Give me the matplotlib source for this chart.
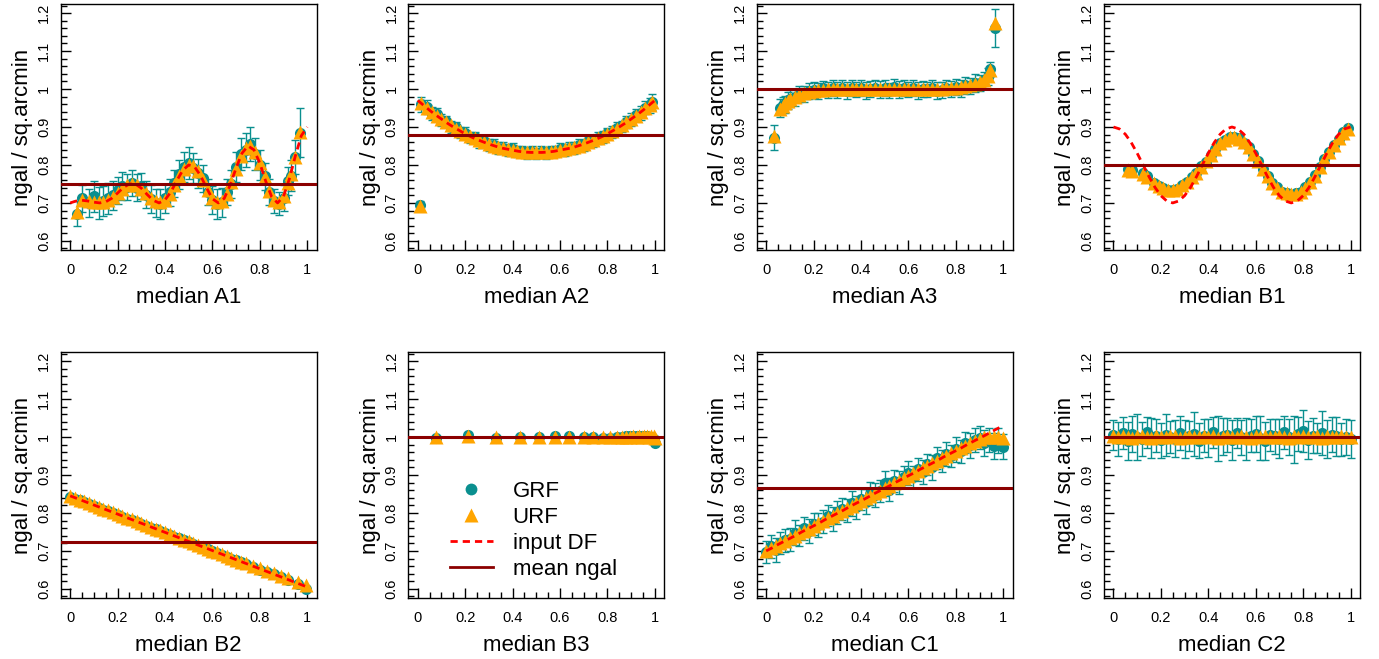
import matplotlib
matplotlib.use('Agg')
import matplotlib.pyplot as plt
from matplotlib.lines import Line2D
from matplotlib.ticker import MultipleLocator, FuncFormatter

plt.rcParams['font.family'] = ['Liberation Sans', 'DejaVu Sans']

TEAL = '#0a8f8f'
ORANGE = '#ffa500'

# input DF curves, sampled every 0.025 in x
df_x = [0.000, 0.025, 0.050, 0.075, 0.100, 0.125, 0.150, 0.175, 0.200, 0.225,
        0.250, 0.275, 0.300, 0.325, 0.350, 0.375, 0.400, 0.425, 0.450, 0.475,
        0.500, 0.525, 0.550, 0.575, 0.600, 0.625, 0.650, 0.675, 0.700, 0.725,
        0.750, 0.775, 0.800, 0.825, 0.850, 0.875, 0.900, 0.925, 0.950, 0.975, 1.000]
df_a1 = [0.700, 0.705, 0.707, 0.705, 0.702, 0.700, 0.703, 0.712, 0.726, 0.741,
         0.750, 0.750, 0.739, 0.722, 0.707, 0.700, 0.708, 0.729, 0.759, 0.786,
         0.800, 0.795, 0.772, 0.740, 0.711, 0.700, 0.712, 0.747, 0.792, 0.831,
         0.850, 0.840, 0.805, 0.757, 0.716, 0.700, 0.717, 0.764, 0.824, 0.877, 0.900]
df_a2 = [0.970, 0.957, 0.944, 0.932, 0.921, 0.910, 0.900, 0.891, 0.882, 0.874,
         0.867, 0.861, 0.855, 0.850, 0.845, 0.842, 0.839, 0.836, 0.834, 0.833,
         0.833, 0.833, 0.834, 0.836, 0.839, 0.842, 0.845, 0.850, 0.855, 0.861,
         0.867, 0.874, 0.882, 0.891, 0.900, 0.910, 0.921, 0.932, 0.944, 0.957, 0.970]
df_a3 = [1.0, 1.0, 1.0, 1.0, 1.0, 1.0, 1.0, 1.0, 1.0, 1.0,
         1.0, 1.0, 1.0, 1.0, 1.0, 1.0, 1.0, 1.0, 1.0, 1.0,
         1.0, 1.0, 1.0, 1.0, 1.0, 1.0, 1.0, 1.0, 1.0, 1.0,
         1.0, 1.0, 1.0, 1.0, 1.0, 1.0, 1.0, 1.0, 1.0, 1.0, 1.0]
df_b1 = [0.900, 0.895, 0.881, 0.859, 0.831, 0.800, 0.769, 0.741, 0.719, 0.705,
         0.700, 0.705, 0.719, 0.741, 0.769, 0.800, 0.831, 0.859, 0.881, 0.895,
         0.900, 0.895, 0.881, 0.859, 0.831, 0.800, 0.769, 0.741, 0.719, 0.705,
         0.700, 0.705, 0.719, 0.741, 0.769, 0.800, 0.831, 0.859, 0.881, 0.895, 0.900]
df_b2 = [0.845, 0.839, 0.833, 0.827, 0.821, 0.815, 0.809, 0.803, 0.797, 0.791,
         0.785, 0.779, 0.773, 0.767, 0.761, 0.755, 0.749, 0.743, 0.737, 0.731,
         0.725, 0.719, 0.713, 0.707, 0.701, 0.695, 0.689, 0.683, 0.677, 0.671,
         0.665, 0.659, 0.653, 0.647, 0.641, 0.635, 0.629, 0.623, 0.617, 0.611, 0.605]
df_b3 = df_a3
df_c1 = [0.700, 0.708, 0.717, 0.725, 0.733, 0.741, 0.750, 0.758, 0.766, 0.774,
         0.783, 0.791, 0.799, 0.807, 0.816, 0.824, 0.832, 0.840, 0.849, 0.857,
         0.865, 0.873, 0.882, 0.890, 0.898, 0.906, 0.915, 0.923, 0.931, 0.939,
         0.948, 0.956, 0.964, 0.972, 0.981, 0.989, 0.997, 1.005, 1.014, 1.022, 1.030]
df_c2 = df_a3

# A1
x_a1 = [0.03, 0.05, 0.08, 0.10, 0.12, 0.14, 0.16, 0.18, 0.20, 0.22,
        0.24, 0.26, 0.28, 0.30, 0.32, 0.34, 0.36, 0.38, 0.40, 0.42,
        0.44, 0.46, 0.48, 0.50, 0.52, 0.54, 0.56, 0.58, 0.60, 0.62,
        0.64, 0.66, 0.68, 0.70, 0.72, 0.74, 0.76, 0.78, 0.80, 0.82,
        0.84, 0.86, 0.88, 0.90, 0.92, 0.93, 0.95, 0.97]
urf_a1 = [0.676, 0.708, 0.705, 0.703, 0.702, 0.703, 0.707, 0.716, 0.727, 0.738,
          0.746, 0.749, 0.746, 0.738, 0.725, 0.713, 0.705, 0.702, 0.708, 0.724,
          0.747, 0.770, 0.789, 0.799, 0.797, 0.783, 0.760, 0.734, 0.712, 0.702,
          0.705, 0.724, 0.754, 0.790, 0.823, 0.844, 0.849, 0.834, 0.805, 0.768,
          0.731, 0.707, 0.702, 0.717, 0.753, 0.776, 0.822, 0.888]
grf_a1 = [0.672, 0.712, 0.700, 0.717, 0.700, 0.705, 0.712, 0.720, 0.733, 0.745,
          0.742, 0.752, 0.740, 0.745, 0.722, 0.710, 0.700, 0.698, 0.712, 0.728,
          0.752, 0.775, 0.795, 0.805, 0.792, 0.778, 0.765, 0.728, 0.708, 0.698,
          0.702, 0.728, 0.750, 0.795, 0.828, 0.840, 0.855, 0.830, 0.800, 0.770,
          0.728, 0.705, 0.698, 0.712, 0.758, 0.772, 0.820, 0.885]
err_a1 = [0.033, 0.035, 0.038, 0.040, 0.042, 0.040, 0.040, 0.038, 0.036, 0.036,
          0.035, 0.034, 0.035, 0.034, 0.036, 0.037, 0.038, 0.040, 0.038, 0.036,
          0.036, 0.038, 0.040, 0.042, 0.040, 0.038, 0.036, 0.034, 0.036, 0.040,
          0.038, 0.034, 0.036, 0.040, 0.042, 0.045, 0.045, 0.042, 0.040, 0.036,
          0.034, 0.032, 0.030, 0.034, 0.036, 0.040, 0.045, 0.065]

# A2
x_a2 = [0.01, 0.015, 0.04, 0.06, 0.08, 0.10, 0.12, 0.14, 0.16, 0.18,
        0.20, 0.22, 0.24, 0.26, 0.28, 0.30, 0.32, 0.34, 0.36, 0.38,
        0.40, 0.42, 0.44, 0.46, 0.48, 0.50, 0.52, 0.54, 0.56, 0.58,
        0.60, 0.62, 0.64, 0.66, 0.68, 0.70, 0.72, 0.74, 0.76, 0.78,
        0.80, 0.82, 0.84, 0.86, 0.88, 0.90, 0.92, 0.94, 0.96, 0.98, 0.99]
urf_a2 = [0.692, 0.962, 0.949, 0.939, 0.930, 0.921, 0.912, 0.904, 0.896, 0.889,
          0.882, 0.876, 0.870, 0.865, 0.860, 0.855, 0.851, 0.847, 0.844, 0.841,
          0.839, 0.837, 0.835, 0.834, 0.833, 0.833, 0.833, 0.834, 0.835, 0.837,
          0.839, 0.841, 0.844, 0.847, 0.851, 0.855, 0.860, 0.865, 0.870, 0.876,
          0.882, 0.889, 0.896, 0.904, 0.912, 0.921, 0.930, 0.939, 0.949, 0.959, 0.965]
grf_a2 = [0.694, 0.960, 0.952, 0.935, 0.933, 0.918, 0.915, 0.900, 0.899, 0.886,
          0.884, 0.872, 0.873, 0.862, 0.862, 0.853, 0.853, 0.845, 0.846, 0.839,
          0.841, 0.835, 0.837, 0.832, 0.835, 0.831, 0.835, 0.832, 0.837, 0.835,
          0.841, 0.839, 0.846, 0.845, 0.853, 0.852, 0.862, 0.863, 0.872, 0.874,
          0.884, 0.887, 0.898, 0.902, 0.914, 0.919, 0.932, 0.937, 0.951, 0.957, 0.966]
err_a2 = [0.010, 0.020, 0.018, 0.017, 0.016, 0.016, 0.015, 0.016, 0.015, 0.014,
          0.015, 0.014, 0.015, 0.016, 0.014, 0.015, 0.016, 0.015, 0.014, 0.015,
          0.016, 0.015, 0.014, 0.015, 0.016, 0.015, 0.016, 0.015, 0.014, 0.015,
          0.016, 0.015, 0.014, 0.015, 0.016, 0.015, 0.014, 0.015, 0.016, 0.015,
          0.014, 0.015, 0.016, 0.015, 0.016, 0.017, 0.016, 0.018, 0.017, 0.020, 0.022]

# A3
x_a3 = [0.035, 0.06, 0.07, 0.08, 0.09, 0.10, 0.12, 0.14, 0.16, 0.18,
        0.20, 0.22, 0.24, 0.26, 0.28, 0.30, 0.32, 0.34, 0.36, 0.38,
        0.40, 0.42, 0.44, 0.46, 0.48, 0.50, 0.52, 0.54, 0.56, 0.58,
        0.60, 0.62, 0.64, 0.66, 0.68, 0.70, 0.72, 0.74, 0.76, 0.78,
        0.80, 0.82, 0.84, 0.86, 0.88, 0.90, 0.92, 0.935, 0.945, 0.965]
urf_a3 = [0.875, 0.948, 0.955, 0.962, 0.968, 0.973, 0.980, 0.985, 0.990, 0.993,
          0.996, 0.997, 0.998, 0.999, 0.999, 1.000, 1.000, 1.000, 1.000, 1.000,
          1.000, 1.000, 1.000, 1.000, 1.000, 1.000, 1.000, 1.000, 1.000, 1.000,
          1.000, 1.000, 1.000, 1.000, 1.000, 1.000, 1.000, 1.001, 1.002, 1.003,
          1.004, 1.005, 1.007, 1.010, 1.013, 1.018, 1.025, 1.035, 1.050, 1.173]
grf_a3 = [0.872, 0.950, 0.958, 0.960, 0.970, 0.975, 0.978, 0.988, 0.987, 0.995,
          0.998, 0.995, 1.002, 0.997, 1.003, 0.998, 1.004, 0.996, 1.002, 0.999,
          1.003, 0.997, 1.001, 1.004, 0.998, 1.002, 0.996, 1.005, 0.999, 1.002,
          0.998, 1.003, 0.997, 1.001, 0.999, 1.004, 0.996, 0.998, 1.003, 1.000,
          1.006, 1.002, 1.010, 1.008, 1.015, 1.016, 1.024, 1.033, 1.052, 1.160]
err_a3 = [0.033, 0.023, 0.022, 0.022, 0.022, 0.022, 0.022, 0.021, 0.021, 0.021,
          0.021, 0.022, 0.020, 0.021, 0.022, 0.021, 0.020, 0.022, 0.021, 0.020,
          0.021, 0.022, 0.021, 0.020, 0.022, 0.021, 0.020, 0.021, 0.022, 0.021,
          0.020, 0.021, 0.022, 0.021, 0.020, 0.021, 0.022, 0.021, 0.020, 0.022,
          0.021, 0.022, 0.023, 0.022, 0.024, 0.022, 0.022, 0.022, 0.020, 0.050]

# B1
x_b1 = [0.06, 0.08, 0.125, 0.14, 0.17, 0.19, 0.21, 0.23, 0.25, 0.27,
        0.29, 0.31, 0.33, 0.35, 0.37, 0.39, 0.41, 0.43, 0.45, 0.47,
        0.49, 0.51, 0.53, 0.55, 0.57, 0.59, 0.61, 0.63, 0.65, 0.67,
        0.69, 0.71, 0.73, 0.75, 0.77, 0.79, 0.81, 0.83, 0.85, 0.87,
        0.89, 0.91, 0.93, 0.95, 0.97, 0.99]
urf_b1 = [0.788, 0.785, 0.777, 0.768, 0.752, 0.745, 0.739, 0.735, 0.733, 0.738,
          0.746, 0.755, 0.767, 0.780, 0.795, 0.810, 0.826, 0.843, 0.857, 0.867,
          0.873, 0.874, 0.869, 0.860, 0.847, 0.830, 0.810, 0.790, 0.770, 0.753,
          0.740, 0.730, 0.725, 0.723, 0.724, 0.730, 0.740, 0.755, 0.772, 0.795,
          0.815, 0.835, 0.852, 0.870, 0.885, 0.895]
grf_b1 = [0.790, 0.786, 0.780, 0.772, 0.752, 0.745, 0.740, 0.734, 0.733, 0.737,
          0.747, 0.754, 0.768, 0.779, 0.796, 0.809, 0.827, 0.842, 0.858, 0.866,
          0.874, 0.873, 0.870, 0.859, 0.848, 0.829, 0.811, 0.789, 0.771, 0.752,
          0.741, 0.729, 0.726, 0.722, 0.725, 0.729, 0.741, 0.754, 0.773, 0.794,
          0.816, 0.834, 0.853, 0.869, 0.886, 0.897]
err_b1 = [0.005, 0.005, 0.005, 0.004, 0.004, 0.004, 0.004, 0.004, 0.004, 0.004,
          0.004, 0.004, 0.004, 0.004, 0.004, 0.004, 0.004, 0.004, 0.004, 0.004,
          0.004, 0.004, 0.004, 0.004, 0.004, 0.004, 0.004, 0.004, 0.004, 0.004,
          0.004, 0.004, 0.004, 0.004, 0.004, 0.004, 0.004, 0.004, 0.004, 0.004,
          0.004, 0.004, 0.004, 0.005, 0.005, 0.006]

# B2
x_b2 = [0.00, 0.02, 0.04, 0.06, 0.08, 0.10, 0.12, 0.14, 0.16, 0.18,
        0.20, 0.22, 0.24, 0.26, 0.28, 0.30, 0.32, 0.34, 0.36, 0.38,
        0.40, 0.42, 0.44, 0.46, 0.48, 0.50, 0.52, 0.54, 0.56, 0.58,
        0.60, 0.62, 0.64, 0.66, 0.68, 0.70, 0.72, 0.74, 0.77, 0.80,
        0.83, 0.86, 0.89, 0.92, 0.96, 0.995]
urf_b2 = [0.845, 0.840, 0.835, 0.831, 0.826, 0.821, 0.816, 0.811, 0.807, 0.802,
          0.797, 0.792, 0.787, 0.783, 0.778, 0.773, 0.768, 0.763, 0.759, 0.754,
          0.749, 0.744, 0.739, 0.735, 0.730, 0.725, 0.720, 0.715, 0.711, 0.706,
          0.701, 0.696, 0.691, 0.687, 0.682, 0.677, 0.672, 0.667, 0.660, 0.654,
          0.647, 0.641, 0.634, 0.628, 0.619, 0.611]
grf_b2 = [0.843, 0.838, 0.833, 0.829, 0.824, 0.819, 0.814, 0.809, 0.805, 0.800,
          0.795, 0.790, 0.785, 0.781, 0.776, 0.771, 0.766, 0.761, 0.757, 0.752,
          0.747, 0.742, 0.737, 0.733, 0.728, 0.723, 0.718, 0.713, 0.709, 0.704,
          0.699, 0.694, 0.689, 0.685, 0.680, 0.675, 0.670, 0.665, 0.658, 0.651,
          0.645, 0.638, 0.631, 0.624, 0.612, 0.600]
err_b2 = [0.004, 0.004, 0.004, 0.004, 0.004, 0.004, 0.004, 0.004, 0.004, 0.004,
          0.004, 0.004, 0.004, 0.004, 0.004, 0.004, 0.004, 0.004, 0.004, 0.004,
          0.004, 0.004, 0.004, 0.004, 0.004, 0.004, 0.004, 0.004, 0.004, 0.004,
          0.004, 0.004, 0.004, 0.004, 0.004, 0.004, 0.004, 0.004, 0.005, 0.005,
          0.005, 0.006, 0.006, 0.006, 0.007, 0.008]

# B3
x_b3 = [0.075, 0.21, 0.33, 0.43, 0.51, 0.58, 0.64, 0.70, 0.74, 0.78,
        0.81, 0.84, 0.86, 0.88, 0.895, 0.91, 0.925, 0.935, 0.945, 0.955,
        0.965, 0.975, 0.985, 0.995, 1.0]
urf_b3 = [1.000, 1.002, 1.000, 1.000, 1.001, 1.001, 1.001, 1.000, 1.000, 1.000,
          1.000, 1.000, 1.001, 1.000, 1.001, 1.002, 1.001, 1.002, 1.001, 1.002,
          1.002, 1.001, 1.003, 1.002, 0.997]
grf_b3 = [0.998, 1.006, 0.998, 0.999, 1.001, 1.003, 1.003, 1.001, 1.000, 0.998,
          0.998, 1.000, 1.001, 1.003, 1.002, 1.003, 1.004, 1.003, 1.004, 1.002,
          1.003, 1.001, 1.000, 0.996, 0.984]
err_b3 = [0.003, 0.004, 0.003, 0.003, 0.003, 0.003, 0.003, 0.003, 0.003, 0.003,
          0.003, 0.003, 0.003, 0.003, 0.003, 0.003, 0.003, 0.003, 0.003, 0.003,
          0.003, 0.004, 0.004, 0.004, 0.005]

# C1
x_c1 = [0.00, 0.02, 0.04, 0.06, 0.08, 0.10, 0.12, 0.14, 0.16, 0.18,
        0.20, 0.22, 0.24, 0.26, 0.28, 0.30, 0.32, 0.34, 0.36, 0.38,
        0.40, 0.42, 0.44, 0.46, 0.48, 0.50, 0.52, 0.54, 0.56, 0.58,
        0.60, 0.62, 0.64, 0.66, 0.68, 0.70, 0.72, 0.74, 0.76, 0.78,
        0.80, 0.82, 0.84, 0.86, 0.88, 0.90, 0.92, 0.94, 0.96, 0.98, 1.00]
urf_c1 = [0.700, 0.707, 0.713, 0.720, 0.726, 0.733, 0.740, 0.746, 0.753, 0.759,
          0.766, 0.773, 0.779, 0.786, 0.792, 0.799, 0.806, 0.812, 0.819, 0.825,
          0.832, 0.839, 0.845, 0.852, 0.858, 0.865, 0.872, 0.878, 0.885, 0.891,
          0.898, 0.905, 0.911, 0.918, 0.924, 0.931, 0.938, 0.944, 0.951, 0.957,
          0.964, 0.971, 0.977, 0.984, 0.990, 0.995, 0.999, 1.000, 0.999, 1.000, 0.998]
grf_c1 = [0.697, 0.712, 0.703, 0.722, 0.728, 0.731, 0.748, 0.741, 0.760, 0.752,
          0.772, 0.768, 0.777, 0.793, 0.784, 0.802, 0.810, 0.806, 0.825, 0.815,
          0.836, 0.830, 0.851, 0.848, 0.858, 0.878, 0.861, 0.884, 0.880, 0.895,
          0.905, 0.894, 0.915, 0.908, 0.928, 0.920, 0.945, 0.936, 0.955, 0.950,
          0.968, 0.962, 0.985, 0.978, 0.992, 0.998, 0.985, 0.992, 0.976, 0.990, 0.975]
err_c1 = [0.028, 0.030, 0.032, 0.029, 0.031, 0.030, 0.033, 0.028, 0.030, 0.032,
          0.029, 0.031, 0.030, 0.028, 0.032, 0.030, 0.029, 0.031, 0.033, 0.030,
          0.028, 0.032, 0.030, 0.031, 0.029, 0.033, 0.030, 0.028, 0.031, 0.030,
          0.032, 0.029, 0.030, 0.031, 0.028, 0.032, 0.030, 0.029, 0.031, 0.030,
          0.033, 0.030, 0.028, 0.032, 0.031, 0.030, 0.034, 0.032, 0.035, 0.033, 0.034]

# C2
x_c2 = x_c1
urf_c2 = [1.002, 0.999, 1.003, 1.001, 0.998, 1.002, 1.004, 1.000, 0.998, 1.003,
          1.001, 0.999, 1.002, 1.004, 0.998, 1.000, 1.003, 1.001, 0.999, 1.002,
          1.000, 1.003, 0.998, 1.001, 1.004, 1.000, 0.999, 1.002, 1.001, 0.998,
          1.003, 1.000, 1.002, 0.999, 1.001, 1.004, 1.000, 0.998, 1.002, 1.001,
          1.003, 0.999, 1.000, 1.002, 0.998, 1.004, 1.001, 0.999, 1.002, 1.000, 1.001]
grf_c2 = [1.005, 0.995, 1.010, 0.990, 1.008, 1.000, 0.995, 1.012, 0.998, 1.004,
          0.992, 1.006, 1.000, 0.996, 1.010, 0.994, 1.002, 1.008, 0.990, 1.004,
          0.998, 1.012, 0.996, 1.002, 1.006, 0.992, 1.010, 1.000, 0.994, 1.004,
          1.008, 0.998, 0.990, 1.006, 1.002, 0.996, 1.012, 1.000, 0.994, 1.008,
          1.015, 0.992, 1.004, 0.998, 1.010, 0.996, 1.006, 1.002, 0.994, 1.000, 0.996]
err_c2 = [0.040, 0.045, 0.042, 0.050, 0.048, 0.060, 0.045, 0.040, 0.052, 0.044,
          0.046, 0.055, 0.042, 0.048, 0.045, 0.050, 0.040, 0.058, 0.046, 0.044,
          0.050, 0.042, 0.060, 0.048, 0.045, 0.052, 0.040, 0.046, 0.055, 0.044,
          0.048, 0.058, 0.050, 0.042, 0.046, 0.052, 0.044, 0.048, 0.062, 0.045,
          0.055, 0.050, 0.046, 0.040, 0.058, 0.050, 0.046, 0.052, 0.044, 0.048, 0.050]

mean_ngal = [0.75, 0.88, 1.0, 0.80, 0.724, 1.0, 0.866, 1.0]
names = ['A1', 'A2', 'A3', 'B1', 'B2', 'B3', 'C1', 'C2']

W, H = 1379.0, 659.0
COL_LEFT = [60.7, 408.3, 756.7, 1104.0]
ROW_TOP = [4.0, 352.0]
BOX_W, BOX_H = 256.0, 246.0


def fmt(v, pos):
    return '%g' % round(v, 2)


def draw_panel(ax, x, grf, err, urf, df_y, mean, name):
    ax.errorbar(x, grf, yerr=err, fmt='none', ecolor=TEAL, elinewidth=1.0,
                capsize=3.2, capthick=1.0, zorder=2)
    ax.plot(x, grf, 'o', color=TEAL, ms=8, mec='none', zorder=3)
    ax.plot(x, urf, '^', color=ORANGE, ms=9.5, mec='none', zorder=4)
    ax.plot(df_x, df_y, color='red', lw=2, ls=(0, (2.6, 1.8)), zorder=5)
    ax.axhline(mean, color='#8b0000', lw=2.2, zorder=6)

    ax.set_xlim(-0.04, 1.04)
    ax.set_ylim(0.576, 1.224)
    ax.xaxis.set_major_locator(MultipleLocator(0.2))
    ax.xaxis.set_minor_locator(MultipleLocator(0.05))
    ax.yaxis.set_major_locator(MultipleLocator(0.1))
    ax.yaxis.set_minor_locator(MultipleLocator(0.02))
    ax.xaxis.set_major_formatter(FuncFormatter(fmt))
    ax.yaxis.set_major_formatter(FuncFormatter(fmt))
    ax.tick_params(which='both', direction='in', width=1, labelsize=10.5)
    ax.tick_params(which='major', length=7.5)
    ax.tick_params(which='minor', length=4)
    ax.tick_params(axis='x', pad=9)
    ax.tick_params(axis='y', pad=7)
    for lab in ax.get_yticklabels():
        lab.set_rotation(90)
        lab.set_va('center')
    for sp in ax.spines.values():
        sp.set_linewidth(1.0)

    ax.set_xlabel('median ' + name, fontsize=16)
    ax.set_ylabel('ngal / sq.arcmin', fontsize=16)
    ax.xaxis.set_label_coords(0.5, -0.15)
    ax.yaxis.set_label_coords(-0.108, 0.5)


def add_legend(ax):
    handles = [
        Line2D([], [], ls='none', marker='o', color=TEAL, ms=8.5, mec='none'),
        Line2D([], [], ls='none', marker='^', color=ORANGE, ms=10, mec='none'),
        Line2D([], [], color='red', lw=2, ls=(0, (2.6, 1.8))),
        Line2D([], [], color='#8b0000', lw=2),
    ]
    labels = ['GRF', 'URF', 'input DF', 'mean ngal']
    ax.legend(handles, labels, loc='upper left', bbox_to_anchor=(0.164, 0.475),
              frameon=False, fontsize=16, handlelength=1.9, handletextpad=0.9,
              labelspacing=0.22, borderpad=0, borderaxespad=0)


def main():
    fig = plt.figure(figsize=(W / 100, H / 100), dpi=100)
    panels = [
        (x_a1, grf_a1, err_a1, urf_a1, df_a1),
        (x_a2, grf_a2, err_a2, urf_a2, df_a2),
        (x_a3, grf_a3, err_a3, urf_a3, df_a3),
        (x_b1, grf_b1, err_b1, urf_b1, df_b1),
        (x_b2, grf_b2, err_b2, urf_b2, df_b2),
        (x_b3, grf_b3, err_b3, urf_b3, df_b3),
        (x_c1, grf_c1, err_c1, urf_c1, df_c1),
        (x_c2, grf_c2, err_c2, urf_c2, df_c2),
    ]
    for i, (x, grf, err, urf, df_y) in enumerate(panels):
        row, col = divmod(i, 4)
        left = COL_LEFT[col] / W
        bottom = (H - ROW_TOP[row] - BOX_H) / H
        ax = fig.add_axes([left, bottom, BOX_W / W, BOX_H / H])
        draw_panel(ax, x, grf, err, urf, df_y, mean_ngal[i], names[i])
        if names[i] == 'B3':
            add_legend(ax)
    fig.savefig('out.png', dpi=100)


if __name__ == '__main__':
    main()
